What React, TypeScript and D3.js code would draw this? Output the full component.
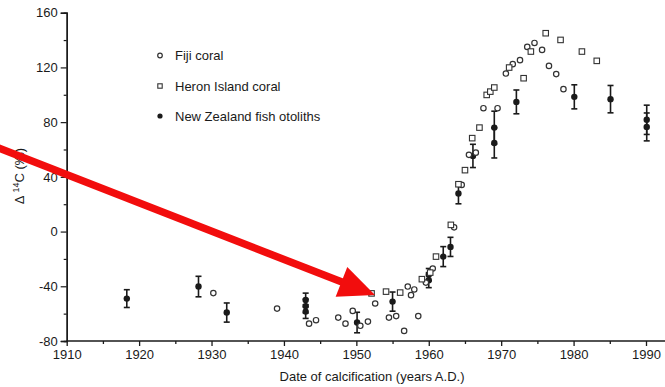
import { useEffect, useRef } from "react";
import * as d3 from "d3";

// Fiji coral: [year, Δ14C]
const fijiCoral: [number, number][] = [
  [1930.25, -45], [1939.05, -56.3], [1943.47, -67.3], [1944.43, -64.8],
  [1947.5, -62.9], [1948.5, -67.3], [1949.5, -58], [1950.55, -68.9],
  [1951.6, -65.8], [1952.6, -52.6], [1954.5, -62.9], [1955.5, -61.8],
  [1956.6, -72.6], [1957.1, -40.2], [1957.55, -46.5], [1958.0, -42.3],
  [1958.55, -61.8], [1959.6, -37.3], [1960.55, -27], [1963.5, 3.1],
  [1964.55, 34.1], [1965.55, 56.1], [1966.5, 57.7], [1967.55, 90.2],
  [1969.5, 90.2], [1970.65, 115.5], [1971.6, 122.4], [1972.6, 125.3],
  [1973.6, 135], [1974.6, 137.9], [1975.65, 132.8], [1976.6, 121.1],
  [1977.6, 115.1], [1978.6, 104.1],
];

// Heron Island coral: [year, Δ14C]
const heronCoral: [number, number][] = [
  [1952.1, -45.2], [1954.1, -43.9], [1956.05, -44.6], [1959.05, -34.8],
  [1960.2, -30], [1961.0, -18.3], [1963.05, 4.9], [1964.1, 34.6],
  [1965.0, 44.9], [1966.0, 68.3], [1967.0, 76], [1968.0, 99.9],
  [1968.5, 102.3], [1969.05, 105.3], [1971.1, 119.9], [1973.1, 112.1],
  [1974.1, 131.6], [1976.15, 145], [1978.2, 140.1], [1981.15, 131.6],
  [1983.2, 124.8],
];

// New Zealand fish otoliths: [year, Δ14C, error]
const nzOtoliths: [number, number, number][] = [
  [1918.3, -49, 6.5], [1928.2, -40.2, 7.5], [1932.1, -59.2, 7],
  [1943.0, -50, 5], [1943.0, -54.5, 5], [1943.0, -58.5, 5],
  [1950.1, -66.5, 7.5], [1955.0, -51.2, 7],
  [1960.0, -31.5, 4.5], [1960.0, -35.5, 5.5],
  [1962.0, -18.3, 7.3], [1963.0, -11.2, 7], [1964.1, 27.8, 7.5],
  [1966.1, 55.3, 8.5], [1969.05, 76, 12], [1969.05, 64.8, 11],
  [1972.1, 94.8, 8.7], [1980.1, 98.5, 8.8], [1985.1, 96.8, 10],
  [1990.1, 81.7, 10.7], [1990.1, 76.5, 10.2],
];

const yTicks = [-80, -40, 0, 40, 80, 120, 160];
const yMinorTicks = [-60, -20, 20, 60, 100, 140];
const xTicks = [1910, 1920, 1930, 1940, 1950, 1960, 1970, 1980, 1990];
const xMinorTicks = [1915, 1925, 1935, 1945, 1955, 1965, 1975, 1985];
const legendLabels = ["Fiji coral", "Heron Island coral", "New Zealand fish otoliths"];

const W = 665;
const H = 387;
const FONT = "'Liberation Sans', Arial, Helvetica, sans-serif";

export default function App() {
  const svgRef = useRef<SVGSVGElement | null>(null);

  useEffect(() => {
    if (!svgRef.current) return;
    const svg = d3.select(svgRef.current);
    svg.selectAll("*").remove();

    const x = d3.scaleLinear().domain([1910, 1990]).range([66.7, 646]);
    const y = d3.scaleLinear().domain([-80, 160]).range([341, 12.7]);
    const ink = "#1a1a1a";

    // y axis
    const yAxis = svg.append("g").attr("transform", `translate(${x(1910)},0)`);
    yAxis
      .append("g")
      .attr("class", "minor")
      .call(d3.axisLeft(y).tickValues(yMinorTicks).tickSize(3).tickFormat(() => ""));
    const yMajor = yAxis
      .append("g")
      .call(d3.axisLeft(y).tickValues(yTicks).tickSize(6).tickPadding(3));
    yAxis.selectAll("path.domain").attr("stroke", ink).attr("stroke-width", 1.4);
    yAxis.selectAll("line").attr("stroke", ink).attr("stroke-width", 1.2);
    yMajor
      .selectAll("text")
      .attr("font-family", FONT)
      .attr("font-size", 13)
      .attr("fill", ink)
      .text((d: any) => (d < 0 ? "-" + Math.abs(d) : String(d)));

    // x axis
    const xAxis = svg.append("g").attr("transform", `translate(0,${y(-80)})`);
    xAxis
      .append("g")
      .call(d3.axisBottom(x).tickValues(xMinorTicks).tickSize(3).tickFormat(() => ""));
    const xMajor = xAxis
      .append("g")
      .call(d3.axisBottom(x).tickValues(xTicks).tickSize(5).tickPadding(4).tickFormat(d3.format("d")));
    xAxis.selectAll("path.domain").remove();
    xAxis
      .append("line")
      .attr("x1", x(1910))
      .attr("x2", W)
      .attr("stroke", ink)
      .attr("stroke-width", 1.6);
    xAxis.selectAll("line").attr("stroke", ink).attr("stroke-width", 1.3);
    xMajor
      .selectAll("text")
      .attr("font-family", FONT)
      .attr("font-size", 13)
      .attr("fill", ink);

    // axis titles
    svg
      .append("text")
      .attr("x", 372)
      .attr("y", 381)
      .attr("text-anchor", "middle")
      .attr("font-family", FONT)
      .attr("font-size", 13)
      .attr("fill", ink)
      .text("Date of calcification (years A.D.)");

    const yTitle = svg
      .append("text")
      .attr("transform", "translate(24,176) rotate(-90)")
      .attr("text-anchor", "middle")
      .attr("font-family", FONT)
      .attr("font-size", 13)
      .attr("fill", ink);
    yTitle.append("tspan").text("Δ ");
    yTitle.append("tspan").attr("font-size", 9).attr("dy", -5).text("14");
    yTitle.append("tspan").attr("dy", 5).text("C (‰)");

    const plot = svg.append("g");

    // error bars
    const cap = 3;
    const eb = plot
      .selectAll("g.eb")
      .data(nzOtoliths)
      .join("g")
      .attr("stroke", ink)
      .attr("stroke-width", 1.6);
    eb.append("line")
      .attr("x1", (d) => x(d[0]))
      .attr("x2", (d) => x(d[0]))
      .attr("y1", (d) => y(d[1] + d[2]))
      .attr("y2", (d) => y(d[1] - d[2]));
    eb.append("line")
      .attr("x1", (d) => x(d[0]) - cap)
      .attr("x2", (d) => x(d[0]) + cap)
      .attr("y1", (d) => y(d[1] + d[2]))
      .attr("y2", (d) => y(d[1] + d[2]));
    eb.append("line")
      .attr("x1", (d) => x(d[0]) - cap)
      .attr("x2", (d) => x(d[0]) + cap)
      .attr("y1", (d) => y(d[1] - d[2]))
      .attr("y2", (d) => y(d[1] - d[2]));
    plot
      .selectAll("circle.nz")
      .data(nzOtoliths)
      .join("circle")
      .attr("cx", (d) => x(d[0]))
      .attr("cy", (d) => y(d[1]))
      .attr("r", 3.2)
      .attr("fill", ink);

    // Fiji
    plot
      .selectAll("circle.fiji")
      .data(fijiCoral)
      .join("circle")
      .attr("cx", (d) => x(d[0]))
      .attr("cy", (d) => y(d[1]))
      .attr("r", 2.7)
      .attr("fill", "white")
      .attr("stroke", "#333")
      .attr("stroke-width", 1.2);

    // Heron
    const s = 5.5;
    plot
      .selectAll("rect.heron")
      .data(heronCoral)
      .join("rect")
      .attr("x", (d) => x(d[0]) - s / 2)
      .attr("y", (d) => y(d[1]) - s / 2)
      .attr("width", s)
      .attr("height", s)
      .attr("fill", "white")
      .attr("stroke", "#333")
      .attr("stroke-width", 1.1);

    // legend
    const lg = svg.append("g");
    const rows = [55.5, 86, 116];
    lg.append("circle").attr("cx", 160).attr("cy", rows[0]).attr("r", 2.3)
      .attr("fill", "white").attr("stroke", "#333").attr("stroke-width", 1.2);
    lg.append("rect").attr("x", 157.8).attr("y", rows[1] - 2.2).attr("width", 4.4).attr("height", 4.4)
      .attr("fill", "white").attr("stroke", "#333").attr("stroke-width", 1.1);
    lg.append("circle").attr("cx", 160).attr("cy", rows[2]).attr("r", 2.6).attr("fill", ink);
    lg.selectAll("text")
      .data(legendLabels)
      .join("text")
      .attr("x", 175)
      .attr("y", (_d, i) => rows[i])
      .attr("dy", "0.35em")
      .attr("font-family", FONT)
      .attr("font-size", 13)
      .attr("fill", ink)
      .text((d) => d);

    // red annotation arrow
    const start: [number, number] = [-4, 147];
    const tip: [number, number] = [375, 295];
    const dx = tip[0] - start[0];
    const dy = tip[1] - start[1];
    const len = Math.hypot(dx, dy);
    const ux = dx / len;
    const uy = dy / len;
    const headLen = 36;
    const headHalf = 16;
    const bx = tip[0] - ux * headLen;
    const by = tip[1] - uy * headLen;
    svg
      .append("line")
      .attr("x1", start[0])
      .attr("y1", start[1])
      .attr("x2", bx + ux * 4)
      .attr("y2", by + uy * 4)
      .attr("stroke", "#f20d0d")
      .attr("stroke-width", 7.5);
    svg
      .append("path")
      .attr(
        "d",
        `M${tip[0]},${tip[1]}L${bx - uy * headHalf},${by + ux * headHalf}L${bx + uy * headHalf},${by - ux * headHalf}Z`
      )
      .attr("fill", "#f20d0d");
  }, []);

  return (
    <svg
      ref={svgRef}
      width={W}
      height={H}
      style={{ position: "fixed", left: 0, top: 0, background: "white" }}
    />
  );
}
